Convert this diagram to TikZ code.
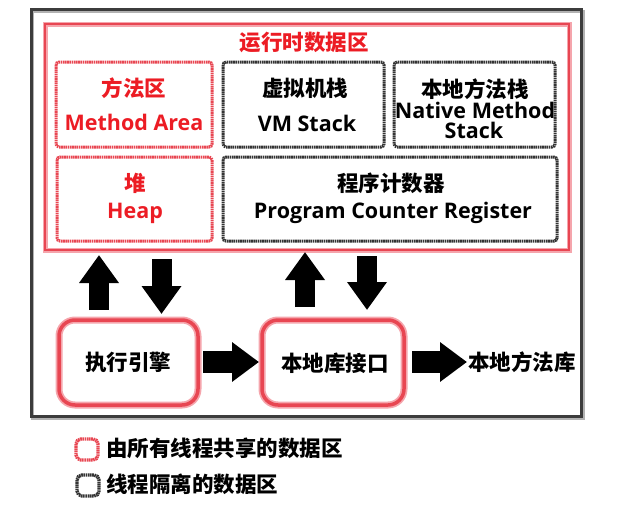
\documentclass[tikz,border=0pt]{standalone}
\usepackage{fontspec}
\setmainfont{Open Sans}
\newfontfamily\cjk{Noto Sans CJK SC}
\usetikzlibrary{arrows.meta}
\definecolor{jred}{RGB}{236,28,36}
\definecolor{boxred}{RGB}{232,70,82}
\definecolor{pinkglow}{RGB}{245,165,172}
\definecolor{frame}{RGB}{60,60,60}
\tikzset{
  shared/.style={draw=boxred, line width=3pt, dash pattern=on 1.6pt off 0.6pt, rounded corners=3pt},
  private/.style={draw=black!80, line width=3pt, dash pattern=on 1.6pt off 0.6pt, rounded corners=3pt},
  redtxt/.style={text=jred, font=\bfseries\fontsize{21.5}{24}\selectfont, inner sep=0pt},
  blktxt/.style={text=black, font=\bfseries\fontsize{21.5}{24}\selectfont, inner sep=0pt},
  cjkred/.style={text=jred, font=\cjk\bfseries\fontsize{21.5}{24}\selectfont, inner sep=0pt},
  cjkblk/.style={text=black, font=\cjk\bfseries\fontsize{21.5}{24}\selectfont, inner sep=0pt},
  vbar/.style={line width=20pt, -{Triangle[width=38pt,length=28pt]}},
  hbar/.style={line width=22pt, -{Triangle[width=38pt,length=27pt]}},
  engine/.style={draw=boxred, line width=3.5pt, rounded corners=16pt},
  engineglow/.style={draw=pinkglow, line width=7pt, rounded corners=16pt},
}
\begin{document}
\begin{tikzpicture}[x=1pt,y=-1pt]
\useasboundingbox (0,0) rectangle (617,506);
% outer frame
\draw[black!30, line width=3pt] (32.5,11) rectangle (583,418);
\draw[frame, line width=3pt] (31,9) rectangle (581,416);
% runtime data area
\draw[pinkglow, line width=5pt] (45,24) rectangle (569,250);
\draw[boxred, line width=2.5pt] (45,24) rectangle (569,250);
\node[cjkred] (title) at (304,42) {运行时数据区};
% boxes
\draw[shared] (56,62) rectangle (212,147);
\draw[private] (223,62) rectangle (384,147);
\draw[private] (394,62) rectangle (555,147);
\draw[shared] (57,157) rectangle (212,241);
\draw[private] (223,157) rectangle (557,241);
\node[cjkred] (ma1) at (134,88) {方法区};
\node[redtxt] (ma2) at (134,122) {Method Area};
\node[cjkblk] (vm1) at (305,88) {虚拟机栈};
\node[blktxt] (vm2) at (307,123) {VM Stack};
\node[cjkblk] (nm1) at (475,89) {本地方法栈};
\node[blktxt] (nm2) at (475,110) {Native Method};
\node[blktxt] (nm3) at (474,130) {Stack};
\node[cjkred] (hp1) at (135,183) {堆};
\node[redtxt] (hp2) at (135,213) {Heap};
\node[cjkblk] (pc1) at (391,183) {程序计数器};
\node[blktxt] (pc2) at (393,213) {Program Counter Register};
% engine boxes
\draw[engineglow] (59,320) rectangle (198,405);
\draw[engine] (59,320) rectangle (198,405);
\node[cjkblk] (exe) at (128,362) {执行引擎};
\draw[engineglow] (262,320) rectangle (404,405);
\draw[engine] (262,320) rectangle (404,405);
\node[cjkblk] (nli) at (335,363) {本地库接口};
\node[cjkblk] (nml) at (522,362) {本地方法库};
% arrow coordinates
\coordinate (u1s) at (99,310); \coordinate (u1e) at (99,255);
\coordinate (d1s) at (161.5,259); \coordinate (d1e) at (161.5,314);
\coordinate (u2s) at (305,307); \coordinate (u2e) at (305,252);
\coordinate (d2s) at (367,256); \coordinate (d2e) at (367,310);
\coordinate (r1s) at (203,362); \coordinate (r1e) at (259,362);
\coordinate (r2s) at (412,362); \coordinate (r2e) at (467,362);
\draw[vbar] (u1s) -- (u1e);
\draw[vbar] (d1s) -- (d1e);
\draw[vbar] (u2s) -- (u2e);
\draw[vbar] (d2s) -- (d2e);
\draw[hbar] (r1s) -- (r1e);
\draw[hbar] (r2s) -- (r2e);
% legend
\draw[shared, line width=3.4pt, rounded corners=5pt] (76,439) rectangle (98,460);
\node[cjkblk, anchor=west] (lg1) at (106,448) {由所有线程共享的数据区};
\draw[private, line width=3.4pt, rounded corners=5pt] (77,475) rectangle (99,496);
\node[cjkblk, anchor=west] (lg2) at (106,484) {线程隔离的数据区};
\end{tikzpicture}
\end{document}
